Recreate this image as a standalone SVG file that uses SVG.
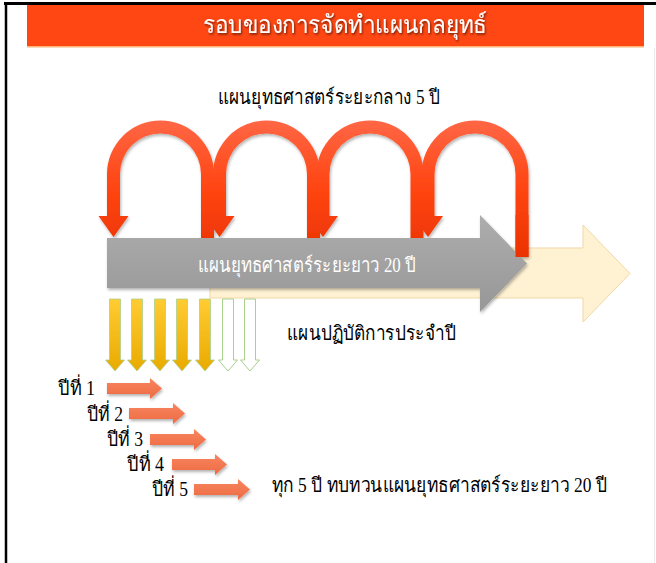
<svg xmlns="http://www.w3.org/2000/svg" width="656" height="563" viewBox="0 0 656 563">
<defs>
<style>
.th{font-family:"Liberation Serif","DejaVu Serif",serif;fill:#000;}
.wt{font-family:"Liberation Serif","DejaVu Serif",serif;fill:#fff;}
.sal{fill:url(#salG);filter:url(#sh);}
.yel{fill:url(#yelG);stroke:#A9D18E;stroke-width:0.8;}
.out{fill:#fff;stroke:#A9D18E;stroke-width:1;}
</style>
<linearGradient id="redG" gradientUnits="userSpaceOnUse" x1="0" y1="120" x2="0" y2="257">
<stop offset="0" stop-color="#FF6745"/>
<stop offset="0.5" stop-color="#FF4512"/>
<stop offset="1" stop-color="#EA3300"/>
</linearGradient>
<linearGradient id="grayG" x1="0" y1="0" x2="0" y2="1">
<stop offset="0" stop-color="#ADADAD"/>
<stop offset="1" stop-color="#979797"/>
</linearGradient>
<linearGradient id="yelG" x1="0" y1="0" x2="0" y2="1">
<stop offset="0" stop-color="#FFCC33"/>
<stop offset="1" stop-color="#E9AA00"/>
</linearGradient>
<linearGradient id="salG" x1="0" y1="0" x2="0" y2="1">
<stop offset="0" stop-color="#F7865F"/>
<stop offset="1" stop-color="#EE6A43"/>
</linearGradient>
<filter id="sh" x="-20%" y="-20%" width="140%" height="150%">
<feDropShadow dx="1" dy="2" stdDeviation="1.5" flood-color="#000" flood-opacity="0.3"/>
</filter>
<filter id="tsh" x="-5%" y="-20%" width="110%" height="150%">
<feDropShadow dx="1" dy="1.5" stdDeviation="1" flood-color="#000" flood-opacity="0.6"/>
</filter>
</defs>
<rect width="656" height="563" fill="#fff"/>
<!-- frame -->
<line x1="4" y1="3.5" x2="656" y2="3.5" stroke="#000" stroke-width="3"/>
<line x1="6" y1="2" x2="6" y2="563" stroke="#000" stroke-width="2.5"/>
<line x1="654.5" y1="48" x2="654.5" y2="563" stroke="#ececec" stroke-width="1"/>

<g id="title">
<rect x="27" y="5" width="617" height="41" fill="#FF4713"/>
<rect x="27" y="46" width="617" height="1.5" fill="#FFB27A"/>
<text class="wt" x="203" y="33" font-size="25" textLength="284" lengthAdjust="spacingAndGlyphs" filter="url(#tsh)">รอบของการจัดทำแผนกลยุทธ์</text>
</g>

<g id="mid-label">
<text class="th" x="218" y="104" font-size="20" textLength="222" lengthAdjust="spacingAndGlyphs">แผนยุทธศาสตร์ระยะกลาง 5 ปี</text>
</g>

<g id="long-term-base">
<path d="M210,248 L583,248 L583,225 L630,273.5 L583,322 L583,298 L210,298 Z" fill="#FFF2D3" stroke="#F3D7A4" stroke-width="1"/>
</g>

<g id="cycles" fill="url(#redG)" filter="url(#sh)">
<path id="cycle4" d="M421.5,216 L421.5,174 A53.5,53.5 0 0 1 528.5,174 L528.5,257 L515.5,257 L515.5,174 A40.5,40.5 0 0 0 434.5,174 L434.5,216 L443,216 L428,237 L413,216 Z"/>
<path id="cycle3" d="M316.5,216 L316.5,174 A53.5,53.5 0 0 1 423.5,174 L423.5,240 L410.5,240 L410.5,174 A40.5,40.5 0 0 0 329.5,174 L329.5,216 L338,216 L323,237 L308,216 Z"/>
<path id="cycle2" d="M213,216 L213,174 A53.5,53.5 0 0 1 320,174 L320,240 L307,240 L307,174 A40.5,40.5 0 0 0 226,174 L226,216 L234.5,216 L219.5,237 L204.5,216 Z"/>
<path id="cycle1" d="M107,216 L107,174 A53.5,53.5 0 0 1 214,174 L214,240 L201,240 L201,174 A40.5,40.5 0 0 0 120,174 L120,216 L128.5,216 L113.5,237 L98.5,216 Z"/>
</g>

<g id="long-term">
<path d="M107,238 L480,238 L480,215 L527,263.5 L480,312 L480,288 L107,288 Z" fill="url(#grayG)" filter="url(#sh)"/>
<text class="wt" x="198" y="272" font-size="20" textLength="218" lengthAdjust="spacingAndGlyphs">แผนยุทธศาสตร์ระยะยาว 20 ปี</text>
</g>
<rect x="515.5" y="215" width="13" height="42" fill="url(#redG)"/>

<g id="annual">
<path class="yel" d="M109.5,299 L120.5,299 L120.5,360 L124.5,360 L115,371 L105.5,360 L109.5,360 Z"/>
<path class="yel" d="M131.5,299 L142.5,299 L142.5,360 L146.5,360 L137,371 L127.5,360 L131.5,360 Z"/>
<path class="yel" d="M154.5,299 L165.5,299 L165.5,360 L169.5,360 L160,371 L150.5,360 L154.5,360 Z"/>
<path class="yel" d="M176.5,299 L187.5,299 L187.5,360 L191.5,360 L182,371 L172.5,360 L176.5,360 Z"/>
<path class="yel" d="M199.5,299 L210.5,299 L210.5,360 L214.5,360 L205,371 L195.5,360 L199.5,360 Z"/>
<path class="out" d="M222.5,299 L233.5,299 L233.5,360 L237.5,360 L228,371 L218.5,360 L222.5,360 Z"/>
<path class="out" d="M244.5,299 L255.5,299 L255.5,360 L259.5,360 L250,371 L240.5,360 L244.5,360 Z" stroke="#C8DDB8"/>
<text class="th" x="287" y="340" font-size="20" textLength="169" lengthAdjust="spacingAndGlyphs">แผนปฏิบัติการประจำปี</text>
</g>

<g id="years">
<g id="y1"><text class="th" x="58" y="395" font-size="20" textLength="37" lengthAdjust="spacingAndGlyphs">ปีที่ 1</text>
<path class="sal" d="M107,383 L150,383 L150,378 L162,388.5 L150,399 L150,394 L107,394 Z"/></g>
<g id="y2"><text class="th" x="87" y="421" font-size="20" textLength="36" lengthAdjust="spacingAndGlyphs">ปีที่ 2</text>
<path class="sal" d="M129,408 L173,408 L173,403 L185,413.5 L173,424 L173,419 L129,419 Z"/></g>
<g id="y3"><text class="th" x="107" y="446" font-size="20" textLength="36" lengthAdjust="spacingAndGlyphs">ปีที่ 3</text>
<path class="sal" d="M150,434 L194,434 L194,429 L206,439.5 L194,450 L194,445 L150,445 Z"/></g>
<g id="y4"><text class="th" x="127" y="471" font-size="20" textLength="37" lengthAdjust="spacingAndGlyphs">ปีที่ 4</text>
<path class="sal" d="M172,459 L215,459 L215,454 L227,464.5 L215,475 L215,470 L172,470 Z"/></g>
<g id="y5"><text class="th" x="152" y="496" font-size="20" textLength="36" lengthAdjust="spacingAndGlyphs">ปีที่ 5</text>
<path class="sal" d="M194,484 L238,484 L238,479 L250,489.5 L238,500 L238,495 L194,495 Z"/></g>
</g>

<g id="review">
<text class="th" x="272" y="492" font-size="20" textLength="335" lengthAdjust="spacingAndGlyphs">ทุก 5 ปี ทบทวนแผนยุทธศาสตร์ระยะยาว 20 ปี</text>
</g>
</svg>
